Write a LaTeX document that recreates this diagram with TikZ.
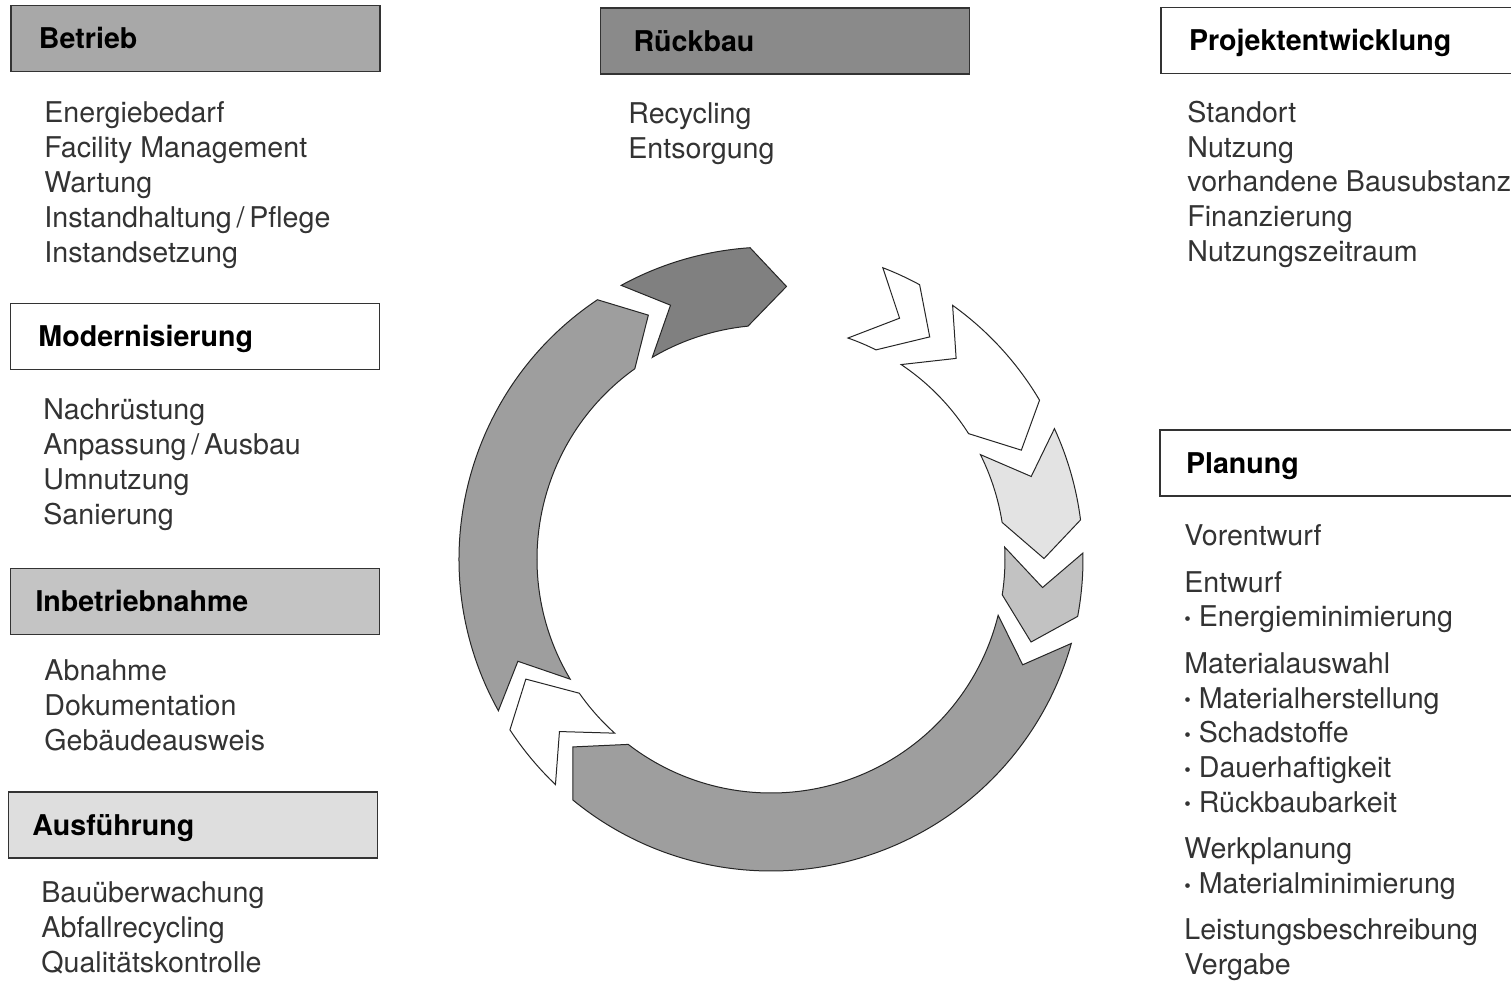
\documentclass[tikz,border=0pt]{standalone}
\usepackage{fontspec}
\setmainfont{TeX Gyre Heros}
\usetikzlibrary{positioning}

\definecolor{grauDunkel}{gray}{0.50}
\definecolor{grauMittel}{gray}{0.62}
\definecolor{grauHell}{gray}{0.76}
\definecolor{grauBlass}{gray}{0.89}
\definecolor{kastenBetrieb}{gray}{0.66}
\definecolor{kastenRueckbau}{gray}{0.54}
\definecolor{kastenInbetrieb}{gray}{0.77}
\definecolor{kastenAusf}{gray}{0.87}

% kleiner Aufzaehlungspunkt
\newcommand{\pkt}{\raisebox{0.1ex}{\scalebox{0.65}{\textbullet}}\ }
% Ringsegment: Schwanzwinkel, Kopfwinkel, Fuellung
\newcommand{\ringsegment}[3]{%
  \filldraw[segment, fill=#3] ({#1-0.9}:312) arc[start angle={#1-0.9}, end angle={#2-0.9}, radius=312]
    -- ({#2-8}:273) -- ({#2+0.9}:234) arc[start angle={#2+0.9}, end angle={#1+0.9}, radius=234]
    -- ({#1-8}:273) -- cycle;}

\begin{document}
\begin{tikzpicture}[x=0.5pt,y=-0.5pt]
  \tikzstyle{every node}=[font=\fontsize{14.3}{17.4}\selectfont]
  \tikzstyle{kopf}=[draw=black!80, line width=0.7pt, minimum height=33pt, text width=156.5pt,
                    inner xsep=14pt, align=left, text height=10.3pt, text depth=0pt,
                    font=\fontsize{14.3}{17.4}\selectfont\bfseries]
  \tikzstyle{liste}=[anchor=north west, inner sep=0pt, align=left, text=black!80]
  \tikzstyle{segment}=[draw=black!85, line width=0.5pt, line join=miter]
\useasboundingbox (0,0) rectangle (1511,981);

% Kopfzeilen
\node [kopf, fill=kastenBetrieb] (betrieb) at (195.5,38.5) {Betrieb};
\node [kopf, fill=kastenRueckbau, inner xsep=16.5pt, text width=151.5pt] (rueckbau) at (785,41) {R\"uckbau};
\node [kopf, fill=white] (projekt) at (1345.5,40.5) {Projektentwicklung};
\node [kopf, fill=white] (modern) at (195,336.5) {Modernisierung};
\node [kopf, fill=white, inner xsep=13pt, text width=158.5pt] (planung) at (1344.5,463) {Planung};
\node [kopf, fill=kastenInbetrieb, inner xsep=12.5pt, text width=159.5pt] (inbetrieb) at (195,601.5) {Inbetriebnahme};
\node [kopf, fill=kastenAusf, inner xsep=12pt, text width=160.5pt] (ausf) at (193,825) {Ausf\"uhrung};

% Listen
\node [liste] (betriebL) at (44,101.5) {Energiebedarf\\Facility Management\\Wartung\\Instandhaltung\,/\,Pflege\\Instandsetzung};
\node [liste] (modernL) at (43,398.5) {Nachr\"ustung\\Anpassung\,/\,Ausbau\\Umnutzung\\Sanierung};
\node [liste] (inbetriebL) at (44,659.5) {Abnahme\\Dokumentation\\Geb\"audeausweis};
\node [liste] (ausfL) at (41,881.5) {Bau\"uberwachung\\Abfallrecycling\\Qualit\"atskontrolle};
\node [liste] (rueckbauL) at (628,102.5) {Recycling\\Entsorgung};
\node [liste] (projektL) at (1187,100.5) {Standort\\Nutzung\\vorhandene Bausubstanz\\Finanzierung\\Nutzungszeitraum};
\node [liste] (planungL) at (1184,524.5) {Vorentwurf\\[5.75pt]
  Entwurf\\\pkt Energieminimierung\\[5.75pt]
  Materialauswahl\\\pkt Materialherstellung\\\pkt Schadstoffe\\\pkt Dauerhaftigkeit\\\pkt R\"uckbaubarkeit\\[5.75pt]
  Werkplanung\\\pkt Materialminimierung\\[5.75pt]
  Leistungsbeschreibung\\Vergabe};

% Lebenszyklus-Ring
\begin{scope}[shift={(771,559)}, yscale=-1]
  \ringsegment{69.9}{62.45}{white}
  \ringsegment{55.3}{31.5}{white}
  \ringsegment{25.6}{8.1}{grauBlass}
  \ringsegment{2.0}{-9.7}{grauHell}
  \ringsegment{-14.8}{-128.5}{grauMittel}
  \ringsegment{227.2}{214.1}{white}
  \ringsegment{210}{124.7}{grauMittel}
  \ringsegment{119.6}{94.75}{grauDunkel}
\end{scope}

	\end{tikzpicture}
\end{document}
